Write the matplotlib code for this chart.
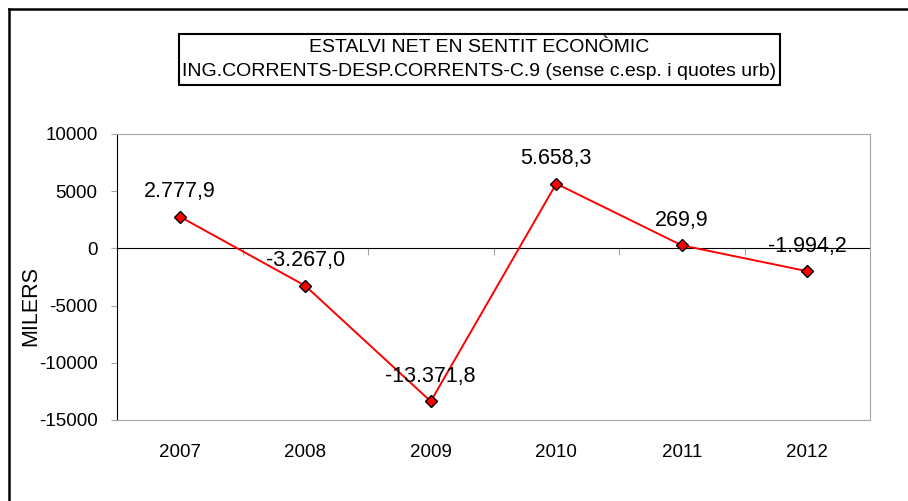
import numpy as np
import matplotlib
matplotlib.use("Agg")
import matplotlib.pyplot as plt
from matplotlib.patches import Rectangle

plt.rcParams["font.family"] = ["Liberation Sans", "DejaVu Sans"]
plt.rcParams["axes.unicode_minus"] = False

years = ["2007", "2008", "2009", "2010", "2011", "2012"]
estalvi = [2777.9, -3267.0, -13371.8, 5658.3, 269.9, -1994.2]
y_ticks = [10000, 5000, 0, -5000, -10000, -15000]
title_lines = [
    "ESTALVI NET EN SENTIT ECONÒMIC",
    "ING.CORRENTS-DESP.CORRENTS-C.9 (sense c.esp. i quotes urb)",
]

W, H = 908, 501


def fx(px):
    return px / W


def fy(py):
    # pixel measured from top -> figure fraction
    return 1 - py / H


def eu_format(v):
    # 2777.9 -> 2.777,9
    s = f"{abs(v):,.1f}".replace(",", "X").replace(".", ",").replace("X", ".")
    return ("-" if v < 0 else "") + s


grey = "#a6a6a6"
fs = 13.5
fs_big = 15.5

fig = plt.figure(figsize=(W / 100, H / 100), dpi=100)

# outer chart border (only top and left are visible in the picture)
fig.add_artist(plt.Line2D([fx(9), fx(9)], [fy(9), 0], color="black", lw=1.8))
fig.add_artist(plt.Line2D([fx(9), 1], [fy(9), fy(9)], color="black", lw=1.8))

# title box
fig.add_artist(Rectangle((fx(179), fy(85)), fx(780) - fx(179), fy(34) - fy(85),
                         transform=fig.transFigure, fill=False, ec="black", lw=1.5))
fig.text(fx(479), fy(48), title_lines[0], ha="center", va="center", fontsize=14)
fig.text(fx(479), fy(71), title_lines[1], ha="center", va="center", fontsize=14)

ax = fig.add_axes([fx(117), fy(420), fx(870) - fx(117), fy(134) - fy(420)])
x = np.arange(len(years))

ax.plot(x, estalvi, color="red", lw=1.4, marker="D", ms=6.5,
        mfc="red", mec="black", mew=1, zorder=3)

for xi, v in zip(x, estalvi):
    ax.annotate(eu_format(v), (xi, v), xytext=(0, 18), textcoords="offset points",
                ha="center", va="center", fontsize=fs_big)

ax.set_xlim(-0.5, len(years) - 0.5)
ax.set_ylim(min(y_ticks), max(y_ticks))
ax.set_yticks(y_ticks)
ax.set_yticklabels([str(t) for t in y_ticks], fontsize=fs)
ax.set_xticks(x)
ax.set_xticklabels(years, fontsize=fs)
ax.tick_params(axis="x", length=0, pad=17)
ax.tick_params(axis="y", length=4, color=grey, pad=10)

for side in ["top", "right", "bottom"]:
    ax.spines[side].set_color(grey)
ax.spines["left"].set_color("black")

# category axis crossing at zero
zero_loc = (0 - min(y_ticks)) / (max(y_ticks) - min(y_ticks))
sec = ax.secondary_xaxis(zero_loc)
sec.set_xticks(np.arange(0.5, len(years) - 1, 1.0))
sec.set_xticklabels([])
sec.tick_params(direction="in", length=5, color=grey)
sec.spines["bottom"].set_color("black")

fig.text(fx(31), fy(306), "MILERS", rotation=90, ha="center", va="center", fontsize=fs_big)

fig.savefig("out.png", dpi=100)
